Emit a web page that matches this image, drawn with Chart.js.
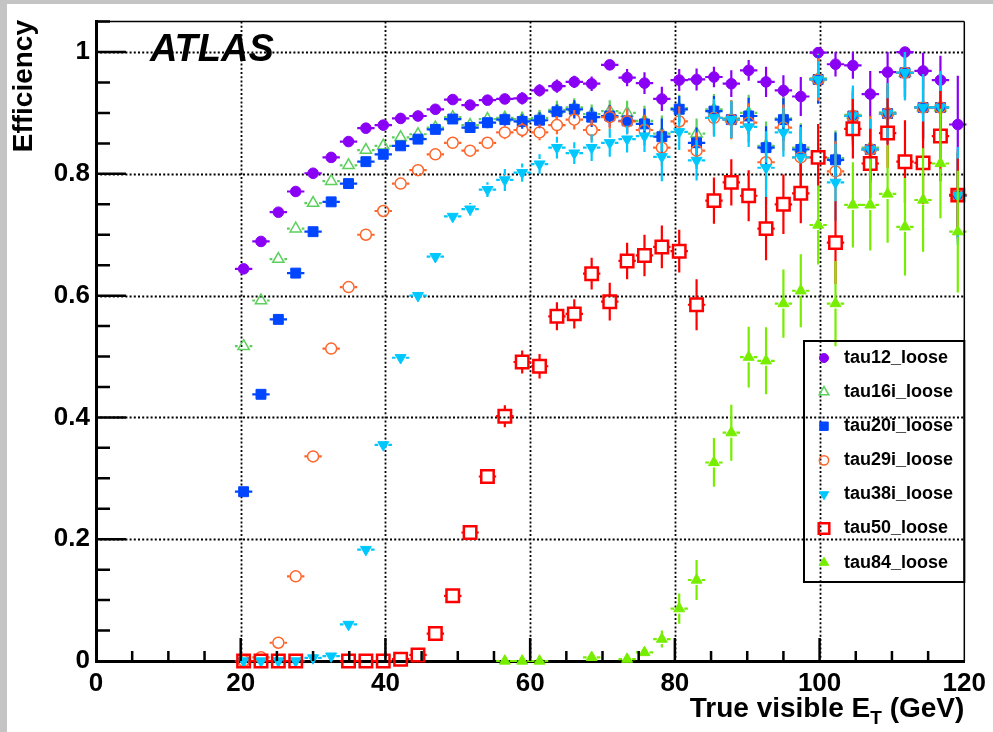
<!DOCTYPE html>
<html>
<head>
<meta charset="utf-8">
<script src="https://cdn.jsdelivr.net/npm/chart.js@4"></script>
<style>
  html, body { margin: 0; padding: 0; background: #c4c4c4; }
  #wrap { width: 993px; height: 732px; }
</style>
</head>
<body>
<div id="wrap"><canvas id="effChart" width="993" height="732"></canvas></div>
<script>
// bin centres (GeV)
const binCenters = [20.4, 22.8, 25.2, 27.6, 30.0, 32.5, 34.9, 37.3, 39.7, 42.1, 44.5, 46.9, 49.3, 51.7,
  54.1, 56.5, 58.9, 61.3, 63.7, 66.1, 68.5, 71.0, 73.4, 75.8, 78.2, 80.6, 83.0, 85.4, 87.8, 90.2,
  92.6, 95.0, 97.4, 99.8, 102.2, 104.6, 107.0, 109.4, 111.8, 114.3, 116.7, 119.1];
const binHalfWidth = 1.2;

const tau12 = [0.644, 0.689, 0.737, 0.771, 0.801, 0.827, 0.853, 0.875, 0.880, 0.891, 0.895, 0.906, 0.922, 0.913,
  0.921, 0.923, 0.924, 0.937, 0.944, 0.951, 0.948, 0.979, 0.958, 0.949, 0.923, 0.954, 0.955, 0.959, 0.948, 0.970,
  0.951, 0.937, 0.927, 0.999, 0.980, 0.978, 0.931, 0.967, 1.000, 0.969, 0.954, 0.881];
const tau12Err = [0.004, 0.004, 0.004, 0.004, 0.004, 0.004, 0.004, 0.004, 0.004, 0.004, 0.005, 0.005, 0.005, 0.006,
  0.006, 0.007, 0.010, 0.010, 0.011, 0.010, 0.012, 0.006, 0.014, 0.018, 0.020, 0.018, 0.018, 0.017, 0.022, 0.017,
  0.025, 0.025, 0.032, 0.010, 0.020, 0.022, 0.038, 0.035, 0.060, 0.030, 0.040, 0.080];

const tau16i = [0.517, 0.592, 0.660, 0.710, 0.752, 0.788, 0.814, 0.839, 0.846, 0.860, 0.865, 0.876, 0.893, 0.880,
  0.890, 0.892, 0.890, 0.892, 0.905, 0.909, 0.898, 0.903, 0.900, 0.887, 0.866, 0.908, 0.866, 0.906, 0.891, 0.900,
  0.846, 0.891, 0.843, 0.957, 0.826, 0.897, 0.843, 0.901, 0.966, 0.909, 0.909, 0.766];
const tau16iErr = [0.005, 0.005, 0.005, 0.005, 0.005, 0.005, 0.005, 0.005, 0.005, 0.005, 0.005, 0.006, 0.007, 0.008,
  0.009, 0.010, 0.012, 0.013, 0.015, 0.015, 0.016, 0.018, 0.020, 0.025, 0.030, 0.022, 0.025, 0.025, 0.030, 0.030,
  0.040, 0.035, 0.040, 0.040, 0.045, 0.040, 0.050, 0.045, 0.040, 0.050, 0.050, 0.070];

const tau20i = [0.278, 0.438, 0.561, 0.637, 0.705, 0.754, 0.784, 0.820, 0.832, 0.846, 0.857, 0.873, 0.890, 0.876,
  0.884, 0.889, 0.886, 0.888, 0.902, 0.906, 0.893, 0.895, 0.887, 0.882, 0.861, 0.906, 0.851, 0.903, 0.889, 0.895,
  0.843, 0.889, 0.840, 0.955, 0.823, 0.895, 0.840, 0.899, 0.966, 0.909, 0.909, 0.764];
const tau20iErr = [0.004, 0.004, 0.004, 0.004, 0.004, 0.004, 0.004, 0.004, 0.004, 0.005, 0.005, 0.006, 0.007, 0.008,
  0.009, 0.010, 0.012, 0.013, 0.012, 0.015, 0.016, 0.018, 0.020, 0.025, 0.030, 0.022, 0.025, 0.025, 0.030, 0.030,
  0.035, 0.035, 0.040, 0.040, 0.045, 0.040, 0.050, 0.045, 0.040, 0.050, 0.050, 0.070];

const tau29i = [0.000, 0.006, 0.030, 0.139, 0.336, 0.513, 0.614, 0.700, 0.739, 0.784, 0.806, 0.832, 0.851, 0.838,
  0.851, 0.868, 0.872, 0.868, 0.880, 0.889, 0.872, 0.893, 0.886, 0.872, 0.843, 0.886, 0.838, 0.892, 0.889, 0.884,
  0.819, 0.876, 0.827, 0.955, 0.804, 0.895, 0.840, 0.899, 0.966, 0.909, 0.909, 0.764];
const tau29iErr = [0.002, 0.003, 0.004, 0.006, 0.006, 0.006, 0.006, 0.006, 0.006, 0.006, 0.006, 0.007, 0.008, 0.009,
  0.010, 0.011, 0.012, 0.013, 0.015, 0.016, 0.017, 0.019, 0.021, 0.025, 0.030, 0.025, 0.030, 0.028, 0.032, 0.032,
  0.045, 0.038, 0.045, 0.035, 0.050, 0.045, 0.055, 0.050, 0.045, 0.055, 0.055, 0.075];

const tau38i = [0.000, 0.000, 0.000, 0.000, 0.005, 0.008, 0.060, 0.183, 0.355, 0.498, 0.600, 0.664, 0.730, 0.742,
  0.774, 0.790, 0.802, 0.816, 0.843, 0.834, 0.843, 0.851, 0.857, 0.862, 0.828, 0.869, 0.822, 0.892, 0.889, 0.877,
  0.810, 0.868, 0.827, 0.955, 0.786, 0.895, 0.840, 0.899, 0.966, 0.909, 0.909, 0.764];
const tau38iErr = [0.001, 0.001, 0.001, 0.001, 0.002, 0.003, 0.005, 0.006, 0.007, 0.007, 0.008, 0.008, 0.008, 0.010,
  0.012, 0.018, 0.015, 0.016, 0.018, 0.018, 0.022, 0.023, 0.022, 0.026, 0.040, 0.030, 0.033, 0.031, 0.030, 0.033,
  0.060, 0.040, 0.050, 0.030, 0.063, 0.050, 0.050, 0.050, 0.045, 0.055, 0.060, 0.080];

const tau50 = [0.000, 0.000, 0.000, 0.000, null, null, 0.000, 0.000, 0.000, 0.003, 0.010, 0.045, 0.107, 0.211,
  0.303, 0.402, 0.491, 0.484, 0.566, 0.570, 0.636, 0.590, 0.657, 0.666, 0.680, 0.673, 0.585, 0.756, 0.786, 0.764,
  0.710, 0.750, 0.768, 0.827, 0.687, 0.874, 0.817, 0.867, 0.820, 0.818, 0.862, 0.765];
const tau50Err = [0.001, 0.001, 0.001, 0.001, null, null, 0.001, 0.001, 0.001, 0.002, 0.004, 0.006, 0.008, 0.010,
  0.012, 0.018, 0.019, 0.020, 0.023, 0.024, 0.026, 0.031, 0.030, 0.034, 0.035, 0.035, 0.042, 0.038, 0.038, 0.042,
  0.052, 0.049, 0.049, 0.055, 0.068, 0.049, 0.057, 0.057, 0.068, 0.068, 0.074, 0.060];

const tau84 = [null, null, null, null, null, null, null, null, null, null, null, null, null, null,
  null, 0.000, 0.000, 0.000, null, null, 0.006, null, 0.003, 0.014, 0.036, 0.086, 0.133, 0.326, 0.375, 0.499,
  0.493, 0.587, 0.608, 0.716, 0.587, 0.749, 0.749, 0.767, 0.713, 0.757, 0.817, 0.705];
const tau84Err = [null, null, null, null, null, null, null, null, null, null, null, null, null, null,
  null, 0.002, 0.002, 0.002, null, null, 0.004, null, 0.004, 0.007, 0.014, 0.025, 0.033, 0.040, 0.046, 0.050,
  0.055, 0.056, 0.060, 0.065, 0.070, 0.070, 0.075, 0.080, 0.080, 0.085, 0.090, 0.100];

const seriesNames = ["tau12_loose", "tau16i_loose", "tau20i_loose", "tau29i_loose", "tau38i_loose", "tau50_loose", "tau84_loose"];

function pts(vals, errs) {
  return binCenters
    .map((x, i) => ({ x: x, y: vals[i], e: errs[i] }))
    .filter(p => p.y !== null);
}

const FONT = '"Liberation Sans", Arial, sans-serif';
const hollow = "rgba(0,0,0,0)";

const styles = [
  { color: "#8a00f5", fill: true, pointStyle: "circle", radius: 5.3, rotation: 0, bw: 1, gap: 5 },
  { color: "#5ccf5c", fill: false, pointStyle: "triangle", radius: 6.5, rotation: 0, bw: 1.5, gap: 6 },
  { color: "#0046ff", fill: true, pointStyle: "rect", radius: 7, rotation: 0, bw: 1, gap: 5 },
  { color: "#ff6428", fill: false, pointStyle: "circle", radius: 5.5, rotation: 0, bw: 1.5, gap: 6 },
  { color: "#00c8ff", fill: true, pointStyle: "triangle", radius: 6.3, rotation: 180, bw: 1, gap: 5 },
  { color: "#ff0000", fill: false, pointStyle: "rect", radius: 8.8, rotation: 0, bw: 2.5, gap: 6.5 },
  { color: "#77ee00", fill: true, pointStyle: "triangle", radius: 6.3, rotation: 0, bw: 1, gap: 5 }
];

const seriesData = [
  pts(tau12, tau12Err), pts(tau16i, tau16iErr), pts(tau20i, tau20iErr), pts(tau29i, tau29iErr),
  pts(tau38i, tau38iErr), pts(tau50, tau50Err), pts(tau84, tau84Err)
];

const datasets = seriesData.map((d, i) => ({
  label: seriesNames[i],
  data: d,
  pointStyle: styles[i].pointStyle,
  pointRadius: styles[i].radius,
  pointRotation: styles[i].rotation,
  pointBorderWidth: styles[i].bw,
  borderColor: styles[i].color,
  backgroundColor: styles[i].fill ? styles[i].color : hollow,
  showLine: false,
  clip: false,
  order: 7 - i,
  gap: styles[i].gap
}));

const background = {
  id: "background",
  beforeDraw(chart) {
    const c = chart.ctx;
    c.save();
    c.fillStyle = "#c4c4c4";
    c.fillRect(0, 0, chart.width, chart.height);
    c.fillStyle = "#ffffff";
    c.fillRect(7, 4, chart.width - 7, chart.height - 4);
    c.restore();
  }
};

// dotted grid at the labelled ticks
const dottedGrid = {
  id: "dottedGrid",
  beforeDatasetsDraw(chart) {
    const c = chart.ctx, a = chart.chartArea;
    const xs = chart.scales.x, ys = chart.scales.y;
    c.save();
    c.strokeStyle = "#000";
    c.lineWidth = 1.8;
    c.setLineDash([2, 2.2]);
    c.beginPath();
    [20, 40, 60, 80, 100].forEach(v => {
      const px = Math.round(xs.getPixelForValue(v)) + 0.5;
      c.moveTo(px, a.top); c.lineTo(px, a.bottom);
    });
    [0.2, 0.4, 0.6, 0.8, 1.0].forEach(v => {
      const py = Math.round(ys.getPixelForValue(v)) + 0.5;
      c.moveTo(a.left, py); c.lineTo(a.right, py);
    });
    c.stroke();
    c.restore();
  }
};

const errorBars = {
  id: "errorBars",
  beforeDatasetDraw(chart, args) {
    const ds = chart.data.datasets[args.index];
    const xs = chart.scales.x, ys = chart.scales.y;
    const c = chart.ctx;
    const g = ds.gap;
    c.save();
    c.strokeStyle = ds.borderColor;
    c.lineWidth = 2.2;
    c.beginPath();
    ds.data.forEach(p => {
      const px = xs.getPixelForValue(p.x), py = ys.getPixelForValue(p.y);
      const x0 = xs.getPixelForValue(p.x - binHalfWidth), x1 = xs.getPixelForValue(p.x + binHalfWidth);
      const yt = ys.getPixelForValue(Math.min(p.y + p.e, 1));
      const yb = ys.getPixelForValue(Math.max(p.y - p.e, 0));
      if (px - g > x0) { c.moveTo(x0, py); c.lineTo(px - g, py); }
      if (x1 > px + g) { c.moveTo(px + g, py); c.lineTo(x1, py); }
      if (yt < py - g) { c.moveTo(px, yt); c.lineTo(px, py - g); }
      if (yb > py + g) { c.moveTo(px, py + g); c.lineTo(px, yb); }
    });
    c.stroke();
    c.restore();
  }
};

function drawMarker(c, s, x, y) {
  c.save();
  c.strokeStyle = s.color;
  c.fillStyle = s.fill ? s.color : hollow;
  c.lineWidth = s.bw;
  Chart.helpers.drawPoint(c, {
    pointStyle: s.pointStyle, rotation: s.rotation, borderWidth: s.bw, radius: s.radius * 0.85
  }, x, y);
  c.restore();
}

const decorations = {
  id: "decorations",
  afterDraw(chart) {
    const c = chart.ctx;
    const a = chart.chartArea;
    const xs = chart.scales.x, ys = chart.scales.y;
    c.save();
    c.strokeStyle = "#000";
    // top and right frame
    c.lineWidth = 1.5;
    c.beginPath();
    c.moveTo(a.left, a.top); c.lineTo(a.right, a.top);
    c.moveTo(a.right, a.top); c.lineTo(a.right, a.bottom);
    c.stroke();
    // inward tick marks
    c.lineWidth = 2.5;
    c.beginPath();
    for (let v = 5; v < 120; v += 5) {
      const px = xs.getPixelForValue(v);
      const len = v % 20 === 0 ? 23 : 10;
      c.moveTo(px, a.bottom); c.lineTo(px, a.bottom - len);
    }
    for (let k = 1; k <= 21; k++) {
      const py = ys.getPixelForValue(k * 0.05);
      const len = k % 4 === 0 ? 30 : 14;
      c.moveTo(a.left, py); c.lineTo(a.left + len, py);
    }
    c.stroke();

    // ATLAS label
    c.fillStyle = "#000";
    c.font = "italic bold 38px " + FONT;
    c.textAlign = "left";
    c.textBaseline = "alphabetic";
    c.fillText("ATLAS", 150, 61);

    // y title
    c.save();
    c.translate(32, 20);
    c.rotate(-Math.PI / 2);
    c.font = "bold 28px " + FONT;
    c.textAlign = "right";
    c.fillText("Efficiency", 0, 0);
    c.restore();

    // x title with subscript
    const big = "bold 28px " + FONT, small = "bold 19px " + FONT;
    const p1 = "True visible E", p2 = "T", p3 = " (GeV)";
    c.font = big; const w1 = c.measureText(p1).width, w3 = c.measureText(p3).width;
    c.font = small; const w2 = c.measureText(p2).width;
    let x = a.right - (w1 + w2 + w3);
    const base = 717;
    c.textAlign = "left";
    c.font = big; c.fillText(p1, x, base); x += w1;
    c.font = small; c.fillText(p2, x, base + 7); x += w2;
    c.font = big; c.fillText(p3, x, base);

    // legend
    const lx = 804, ly = 341, lw = a.right - 804, lh = 241;
    c.lineWidth = 2;
    c.strokeRect(lx, ly, lw, lh);
    c.font = "bold 18px " + FONT;
    c.textBaseline = "middle";
    seriesNames.forEach((name, i) => {
      const yy = 358 + i * 34.1;
      drawMarker(c, styles[i], 824, yy);
      c.fillStyle = "#000";
      c.fillText(name, 844, yy);
    });
    c.restore();
  }
};

const ctx = document.getElementById("effChart").getContext("2d");
new Chart(ctx, {
  type: "scatter",
  data: { datasets: datasets },
  options: {
    responsive: false,
    animation: false,
    events: [],
    layout: { padding: { left: 0, top: 20, right: 27, bottom: 0 } },
    plugins: { legend: { display: false }, tooltip: { enabled: false } },
    scales: {
      x: {
        type: "linear",
        min: 0, max: 120,
        afterFit(scale) { scale.height = 71; },
        border: { display: true, color: "#000", width: 3 },
        grid: { drawTicks: false, color: "rgba(0,0,0,0)" },
        ticks: {
          stepSize: 5, autoSkip: false, maxRotation: 0, padding: 7,
          color: "#000",
          font: { family: FONT, weight: "bold", size: 26 },
          callback: v => (v % 20 === 0 ? String(v) : "")
        }
      },
      y: {
        type: "linear",
        min: 0, max: 1.05,
        afterFit(scale) { scale.width = 96; },
        border: { display: true, color: "#000", width: 3 },
        grid: { drawTicks: false, color: "rgba(0,0,0,0)" },
        ticks: {
          stepSize: 0.05, autoSkip: false, padding: 6,
          color: "#000",
          font: { family: FONT, weight: "bold", size: 26 },
          callback: v => {
            const r = Math.round(v * 100);
            return r % 20 === 0 ? String(r / 100) : "";
          }
        }
      }
    }
  },
  plugins: [background, dottedGrid, errorBars, decorations]
});
</script>
</body>
</html>
